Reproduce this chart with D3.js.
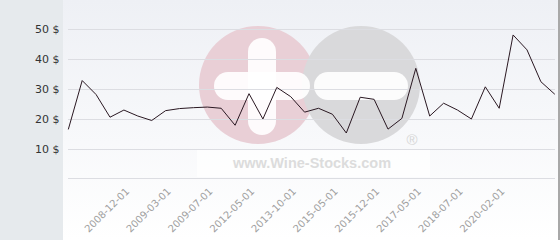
<!DOCTYPE html>
<meta charset="utf-8">
<style>
body{ margin:0; background:#fff; }
svg{ display:block; font-family:"DejaVu Sans", Verdana, sans-serif; }
</style>
<body>
<script src="https://d3js.org/d3.v7.min.js"></script>
<script>
// price per point, in order
const prices = [16.4, 32.8, 28.1, 20.5, 22.9, 20.9, 19.4, 22.7, 23.4, 23.7, 23.9, 23.5,
                17.8, 28.4, 19.9, 30.5, 27.4, 22.2, 23.5, 21.5, 15.2, 27.2, 26.5, 16.5,
                20.1, 36.9, 20.9, 25.2, 22.9, 19.9, 30.7, 23.5, 48.1, 43.1, 32.4, 28.2];
// shown date labels and the point they sit on
const tickIdx = [4, 7, 10, 13, 16, 19, 22, 25, 28, 31];
const tickLabels = ["2008-12-01", "2009-03-01", "2009-07-01", "2012-05-01", "2013-10-01",
                    "2015-05-01", "2015-12-01", "2017-05-01", "2018-07-01", "2020-02-01"];
const yTicks = [0, 10, 20, 30, 40, 50];

const width = 560, height = 240;
const svg = d3.select("body").append("svg")
    .attr("width", width).attr("height", height);

const defs = svg.append("defs");
const grad = defs.append("linearGradient").attr("id", "bg")
    .attr("x1", 0).attr("y1", 0).attr("x2", 0).attr("y2", 1);
grad.append("stop").attr("offset", "0%").attr("stop-color", "#eef0f5");
grad.append("stop").attr("offset", "100%").attr("stop-color", "#ffffff");

// left panel + plot background
svg.append("rect").attr("width", 63).attr("height", height).attr("fill", "#e6eaed");
svg.append("rect").attr("x", 63).attr("width", 495).attr("height", height).attr("fill", "url(#bg)");
svg.append("rect").attr("x", 558).attr("width", 2).attr("height", height).attr("fill", "#a8a8a8");

// watermark
const wm = svg.append("g");
wm.append("rect").attr("x", 197).attr("y", 149).attr("width", 233).attr("height", 28)
    .attr("fill", "#fff").attr("opacity", 0.7);
wm.append("circle").attr("cx", 258).attr("cy", 85).attr("r", 59).attr("fill", "#e9cfd6");
wm.append("circle").attr("cx", 361).attr("cy", 85).attr("r", 59).attr("fill", "#d9d9db");
wm.append("rect").attr("x", 214).attr("y", 72).attr("width", 96).attr("height", 28).attr("rx", 14)
    .attr("fill", "#fff").attr("opacity", 0.92);
wm.append("rect").attr("x", 248).attr("y", 38).attr("width", 28).attr("height", 97).attr("rx", 14)
    .attr("fill", "#fff").attr("opacity", 0.92);
wm.append("rect").attr("x", 314).attr("y", 72).attr("width", 94).attr("height", 28).attr("rx", 14)
    .attr("fill", "#fff").attr("opacity", 0.92);
wm.append("text").attr("x", 312).attr("y", 168).attr("text-anchor", "middle")
    .attr("font-family", "Liberation Sans, Arial, sans-serif").attr("font-weight", "bold")
    .attr("font-size", 14.5).attr("fill", "#dcdcdc").text("www.Wine-Stocks.com");
wm.append("text").attr("x", 412).attr("y", 145).attr("text-anchor", "middle")
    .attr("font-family", "Liberation Sans, Arial, sans-serif")
    .attr("font-size", 15).attr("fill", "#d6d6d6").text("®");

const x = d3.scalePoint().domain(d3.range(prices.length)).range([68.3, 554.8]);
const y = d3.scaleLinear().domain([0, 50]).range([178.3, 29.3]);

// grid
svg.append("g").selectAll("line").data(yTicks).join("line")
    .attr("x1", 68).attr("x2", 555)
    .attr("y1", d => Math.round(y(d)) + 0.5).attr("y2", d => Math.round(y(d)) + 0.5)
    .attr("stroke", "#dcdde2").attr("stroke-width", 1);

// y labels
svg.append("g").selectAll("text").data(yTicks.filter(d => d > 0)).join("text")
    .attr("x", 59.5).attr("y", d => y(d) + 4)
    .attr("text-anchor", "end").attr("font-size", 11).attr("fill", "#333")
    .text(d => d + " $");

// x labels
svg.append("g").selectAll("text").data(tickIdx).join("text")
    .attr("transform", d => `translate(${x(d) + 6},${192}) rotate(-45)`)
    .attr("text-anchor", "end").attr("font-size", 10).attr("fill", "#a0a0a0")
    .text((d, i) => tickLabels[i]);

// price line
svg.append("path").datum(prices)
    .attr("fill", "none").attr("stroke", "#2a1822").attr("stroke-width", 1)
    .attr("d", d3.line().x((d, i) => x(i)).y(d => y(d)));
</script>
</body>
</html>
